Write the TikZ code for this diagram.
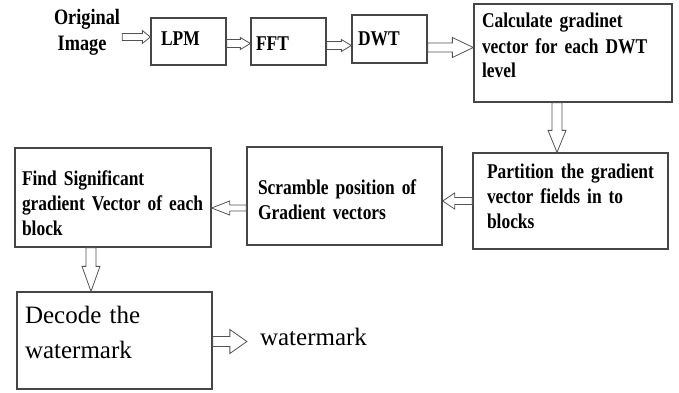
\documentclass[tikz,border=0pt]{standalone}
\usepackage{fontspec}
\setmainfont{Liberation Serif}
\newfontfamily\narrowserif[FakeStretch=0.83]{Liberation Serif}
\usetikzlibrary{calc}
\hyphenpenalty=10000
\exhyphenpenalty=10000
\hbadness=10000
\hfuzz=20pt

\begin{document}
\begin{tikzpicture}[x=1pt,y=1pt,
    box/.style={draw=gray!55!black,line width=1.3pt,align=left,inner ysep=0pt,
      font=\narrowserif\fontsize{21}{25}\selectfont\bfseries},
    harrow/.style n args={3}{draw=gray!65!black,line width=0.8pt,
      to path={let \p2=($(\tikztotarget)!#3!(\tikztostart)$) in
        ($(\tikztostart)!#1!90:(\tikztotarget)$) -- ($(\p2)!#1!90:(\tikztotarget)$)
        -- ($(\p2)!#2!90:(\tikztotarget)$) -- (\tikztotarget)
        -- ($(\p2)!#2!-90:(\tikztotarget)$) -- ($(\p2)!#1!-90:(\tikztotarget)$)
        -- ($(\tikztostart)!#1!-90:(\tikztotarget)$) -- cycle}}]

    \useasboundingbox (0,0) rectangle (679,392);

    % Top row
    \node[align=left,inner sep=2pt,font=\narrowserif\fontsize{22}{26}\selectfont\bfseries]
      (orig) at (87,360) {Original\\ \,Image};
    \node[box,inner xsep=10pt,text width=55pt,text height=27pt,text depth=20pt] (lpm) at (188.5,350.5) {LPM};
    \node[box,inner xsep=5pt,text width=65pt,text height=32pt,text depth=15pt] (fft) at (288.5,350.5) {FFT};
    \node[box,inner xsep=6pt,text width=63pt,text height=30pt,text depth=18pt] (dwt) at (389.5,353) {DWT};
    \node[box,inner xsep=8pt,text width=182pt,text height=24pt,text depth=74pt] (calc) at (573,339)
      {Calculate~gradinet\\ vector~for~each~DWT\\ level};

    % Middle row
    \node[box,inner xsep=14pt,text width=167pt,text height=25pt,text depth=71pt] (part) at (570.5,191)
      {Partition~the~gradient\\ vector~fields~in~to\\ blocks};
    \node[box,inner xsep=11pt,text width=173pt,text height=47pt,text depth=51pt] (scr) at (344.5,196)
      {Scramble~position~of\\ Gradient~vectors};
    \node[box,inner xsep=7pt,text width=182pt,text height=37pt,text depth=62pt] (find) at (113,194.5)
      {Find~Significant\\ gradient~Vector~of~each\\ block};

    % Bottom row
    \node[box,inner xsep=8pt,text width=179pt,text height=31pt,text depth=66pt,
      font=\fontsize{25}{35}\selectfont] (dec) at (114.5,51.5) {Decode~the\\ watermark};
    \node[inner sep=2pt,font=\fontsize{25}{30}\selectfont] (wm) at (313.5,55) {watermark};
    \coordinate (wmtip) at ([xshift=-11pt]wm.west);

    % Hollow arrows
    \draw[harrow={3.5pt}{6.5pt}{8pt}] ([yshift=-5pt]orig.east) to ([yshift=-5pt]orig.east -| lpm.west);
    \draw[harrow={4pt}{6pt}{10pt}] ([yshift=-2pt]lpm.east) to ([yshift=-2pt]lpm.east -| fft.west);
    \draw[harrow={4pt}{6pt}{10pt}] ([yshift=-4pt]fft.east) to ([yshift=-4pt]fft.east -| dwt.west);
    \draw[harrow={4.5pt}{10pt}{21pt}] ([yshift=-8.5pt]dwt.east) to ([yshift=-8.5pt]dwt.east -| calc.west);
    \draw[harrow={5pt}{9pt}{22pt}] ([xshift=-16pt]calc.south) to ([xshift=-16pt]calc.south |- part.north);
    \draw[harrow={3.5pt}{8pt}{12pt}] (part.west) to (part.west -| scr.east);
    \draw[harrow={3pt}{7pt}{18pt}] ([yshift=-12pt]scr.west) to ([yshift=-12pt]scr.west -| find.east);
    \draw[harrow={5pt}{9pt}{25pt}] ([xshift=-22pt]find.south) to ([xshift=-22pt]find.south |- dec.north);
    \draw[harrow={5pt}{12pt}{17pt}] ([yshift=-1pt]dec.east) to ([yshift=-1pt]dec.east -| wmtip);

\end{tikzpicture}
\end{document}
